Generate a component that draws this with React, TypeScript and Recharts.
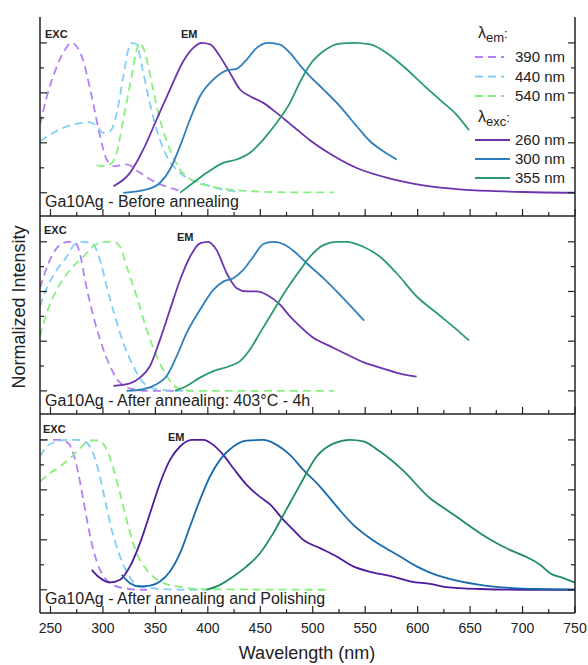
import React from 'react'
import { LineChart, Line, XAxis, YAxis } from 'recharts'

type Pt = [number, number]

// wavelengths (nm) vs normalized intensity
const xTicks = [250, 275, 300, 325, 350, 375, 400, 425, 450, 475, 500, 525, 550, 575, 600, 625, 650, 675, 700, 725, 750]
const yTicks = [0, 1 / 6, 2 / 6, 3 / 6, 4 / 6, 5 / 6, 1]

// Panel 1 - before annealing
const p1Exc390: Pt[] = [[240, 0.455], [246.4, 0.64], [254.3, 0.81], [263.8, 0.955], [270, 1.0], [279.8, 0.91], [289.3, 0.644], [297.2, 0.378], [303.6, 0.222], [311.5, 0.178], [322.6, 0.189], [335.3, 0.133], [348, 0.078], [363.9, 0.033], [376.6, 0.008]]
const p1Exc440: Pt[] = [[240, 0.344], [262.2, 0.433], [287.7, 0.47], [294, 0.444], [300.3, 0.4], [306.7, 0.41], [313.1, 0.53], [319.4, 0.777], [324.2, 0.955], [327.8, 1.0], [332.2, 0.99], [337, 0.85], [343.2, 0.644], [351.2, 0.422], [360.8, 0.244], [373.5, 0.133], [392.5, 0.067], [414.7, 0.022], [430, 0.004]]
const p1Exc540: Pt[] = [[294, 0.185], [297.2, 0.178], [306.7, 0.189], [313.1, 0.267], [319.4, 0.489], [327.4, 0.777], [332.2, 0.955], [335.3, 1.0], [340.1, 0.933], [346.5, 0.733], [354.4, 0.489], [363.9, 0.289], [373.5, 0.155], [386.1, 0.078], [402.1, 0.044], [430.7, 0.015], [478.3, 0.003], [520, 0.002]]
const p1Em260: Pt[] = [[310, 0.044], [325.8, 0.133], [338.5, 0.289], [351.2, 0.489], [363.9, 0.689], [376.6, 0.878], [386.1, 0.967], [394.1, 1.0], [402.1, 0.99], [411.6, 0.91], [421.1, 0.8], [430.7, 0.689], [440.2, 0.644], [452.9, 0.6], [465.6, 0.533], [478.3, 0.46], [487.9, 0.405], [497.4, 0.35], [516.5, 0.26], [541.9, 0.165], [573.6, 0.095], [605.4, 0.05], [637.2, 0.025], [669, 0.012], [700.7, 0.005], [750, 0]]
const p1Em300: Pt[] = [[319.4, 0], [341.7, 0.022], [354.4, 0.067], [363.9, 0.155], [373.5, 0.311], [383, 0.489], [392.5, 0.644], [405.2, 0.755], [418, 0.817], [427.5, 0.827], [437, 0.889], [446.6, 0.967], [457.6, 1.0], [468.8, 0.989], [478.3, 0.933], [487.9, 0.85], [497.4, 0.777], [510.1, 0.69], [526, 0.577], [541.9, 0.444], [554.6, 0.344], [567.3, 0.277], [580, 0.222]]
const p1Em355: Pt[] = [[373.5, 0], [386.1, 0.067], [398.9, 0.133], [414.7, 0.2], [427.5, 0.222], [440.2, 0.267], [452.9, 0.355], [465.6, 0.467], [478.3, 0.6], [487.9, 0.74], [497.4, 0.855], [510.1, 0.944], [526, 0.995], [538.7, 1.0], [554.6, 0.99], [570.5, 0.933], [586.3, 0.844], [605.4, 0.72], [621.3, 0.62], [637.2, 0.52], [649, 0.417]]

// Panel 2 - after annealing 403°C 4h
const p2Exc390: Pt[] = [[240, 0.69], [249.5, 0.88], [259.1, 0.98], [267, 1.0], [273.4, 0.995], [278.1, 0.92], [282.9, 0.744], [289.3, 0.544], [297.2, 0.345], [306.7, 0.167], [316.3, 0.055], [328.9, 0.011], [344.9, 0], [370, 0]]
const p2Exc440: Pt[] = [[240, 0.567], [246.4, 0.689], [255.9, 0.811], [265.5, 0.9], [273.4, 0.985], [279.8, 1.0], [287.7, 0.995], [292.4, 0.967], [297.2, 0.878], [303.6, 0.7], [311.5, 0.5], [319.4, 0.322], [328.9, 0.167], [338.5, 0.055], [351.2, 0.011], [377, 0], [383, 0]]
const p2Exc540: Pt[] = [[240, 0.367], [246.4, 0.522], [255.9, 0.678], [268.6, 0.811], [281.3, 0.9], [292.4, 0.978], [300.3, 1.0], [309.9, 1.0], [316.3, 0.967], [322.6, 0.833], [332.2, 0.633], [341.7, 0.411], [351.2, 0.233], [360.8, 0.1], [370.3, 0.022], [386, 0], [520, 0]]
const p2Em260: Pt[] = [[310, 0.033], [325.8, 0.05], [335.3, 0.089], [344.9, 0.167], [354.4, 0.344], [363.9, 0.544], [373.5, 0.744], [383, 0.9], [392.5, 0.99], [400.4, 1.0], [408.4, 0.944], [418, 0.789], [427.5, 0.689], [437, 0.667], [446.6, 0.667], [456.1, 0.645], [468.8, 0.578], [478.3, 0.5], [487.9, 0.433], [500.5, 0.356], [516.5, 0.3], [532.4, 0.245], [548.2, 0.193], [564.1, 0.156], [583.2, 0.116], [599, 0.096]]
const p2Em300: Pt[] = [[322.6, 0], [338.5, 0.011], [351.2, 0.044], [360.8, 0.1], [370.3, 0.233], [379.8, 0.389], [392.5, 0.544], [405.2, 0.678], [414.7, 0.733], [424.3, 0.756], [433.8, 0.811], [443.3, 0.9], [452.9, 0.985], [462.4, 1.0], [471.9, 0.985], [481.5, 0.94], [494.2, 0.856], [510.1, 0.756], [526, 0.644], [549, 0.471]]
const p2Em355: Pt[] = [[368.7, 0], [379.8, 0.033], [392.5, 0.089], [405.2, 0.133], [421.1, 0.167], [430.7, 0.2], [440.2, 0.278], [449.7, 0.389], [459.3, 0.5], [468.8, 0.611], [478.3, 0.715], [487.9, 0.81], [497.4, 0.9], [510.1, 0.978], [522.8, 1.0], [532.4, 1.0], [548.2, 0.967], [564.1, 0.9], [580, 0.789], [599.1, 0.633], [618.2, 0.522], [637.2, 0.411], [649, 0.338]]

// Panel 3 - after annealing and polishing
const p3Exc390: Pt[] = [[240, 1.0], [249.5, 1.0], [259.1, 1.0], [267, 0.978], [271.7, 0.911], [276.5, 0.778], [281.3, 0.6], [286, 0.422], [290.8, 0.267], [297.2, 0.133], [306.7, 0.044], [319.4, 0.011], [335.3, 0], [342, 0]]
const p3Exc440: Pt[] = [[240, 0.889], [246.4, 0.956], [255.9, 0.989], [265.5, 1.0], [275, 1.0], [282.9, 0.989], [289.3, 0.933], [295.6, 0.8], [302, 0.6], [308.4, 0.4], [316.3, 0.222], [324.2, 0.1], [332.2, 0.033], [344.9, 0.011], [376.6, 0], [399, 0]]
const p3Exc540: Pt[] = [[240, 0.722], [249.5, 0.778], [259.1, 0.822], [268.6, 0.878], [278.1, 0.944], [287.7, 0.996], [295.6, 0.996], [302, 0.956], [308.4, 0.844], [316.3, 0.644], [324.2, 0.422], [332.2, 0.244], [341.7, 0.133], [354.4, 0.055], [370.3, 0.022], [398.9, 0.004], [517, 0]]
const p3Em260: Pt[] = [[289.3, 0.133], [297.2, 0.078], [306.7, 0.049], [316.3, 0.067], [325.8, 0.156], [335.3, 0.311], [344.9, 0.511], [354.4, 0.711], [363.9, 0.867], [373.5, 0.956], [384.6, 1.0], [395.7, 1.0], [405.2, 0.967], [414.7, 0.9], [424.3, 0.811], [437, 0.7], [449.7, 0.62], [459.3, 0.57], [472, 0.467], [481.5, 0.4], [491, 0.333], [506.9, 0.278], [522.8, 0.222], [538.7, 0.156], [554.6, 0.12], [573.6, 0.093], [594, 0.055], [611.8, 0.04], [627.7, 0.018], [659.5, 0.005], [700, 0], [750, 0]]
const p3Em300: Pt[] = [[317.9, 0.1], [325.8, 0.044], [335.3, 0.022], [344.9, 0.027], [354.4, 0.055], [363.9, 0.122], [373.5, 0.244], [383, 0.422], [392.5, 0.6], [402, 0.756], [411.6, 0.867], [424.3, 0.956], [437, 0.995], [452.9, 1.0], [465.6, 0.967], [478.3, 0.9], [491, 0.8], [506.9, 0.689], [522.8, 0.556], [538.7, 0.433], [554.6, 0.344], [568.9, 0.28], [583.2, 0.222], [599, 0.156], [611.8, 0.115], [627.7, 0.078], [659.5, 0.033], [691.2, 0.011], [723, 0.004], [750, 0]]
const p3Em355: Pt[] = [[398.9, 0], [411.6, 0.033], [424.3, 0.089], [437, 0.156], [449.7, 0.244], [462.4, 0.378], [475.2, 0.54], [487.9, 0.7], [503.7, 0.889], [519.6, 0.975], [535.5, 1.0], [548.2, 0.99], [564.1, 0.922], [585.5, 0.8], [611.8, 0.611], [627.7, 0.533], [643.5, 0.456], [659.5, 0.378], [675.4, 0.311], [691.2, 0.256], [704, 0.218], [716.7, 0.167], [726.2, 0.111], [738.9, 0.078], [750, 0.048]]

const legendEm = ['390 nm', '440 nm', '540 nm']
const legendExc = ['260 nm', '300 nm', '355 nm']
const panelTitles = ['Ga10Ag - Before annealing', 'Ga10Ag - After annealing: 403°C - 4h', 'Ga10Ag - After annealing and Polishing']

const FONT = '"Liberation Sans", Arial, sans-serif'
const excColors = ['#b57ef6', '#82cdf9', '#86f07c']
const emColors = ['#6c33ae', '#2f7fbd', '#2b9a6d']
const emColors3 = ['#4c1b9e', '#176aab', '#1e8c5d']

const W = 588
const LEFT = 40
const RIGHT = 575
const DOMAIN_Y: [number, number] = [-0.155, 1.173]

const toData = (pts: Pt[]) => pts.map(([x, y]) => ({ x, y }))

const panels = [
  { top: 17, h: 199, exc: [p1Exc390, p1Exc440, p1Exc540], em: [p1Em260, p1Em300, p1Em355], emC: emColors },
  { top: 216, h: 198, exc: [p2Exc390, p2Exc440, p2Exc540], em: [p2Em260, p2Em300, p2Em355], emC: emColors },
  { top: 414, h: 199, exc: [p3Exc390, p3Exc440, p3Exc540], em: [p3Em260, p3Em300, p3Em355], emC: emColors3 },
]

const axisLine = { stroke: '#222', strokeWidth: 1.5 }

function Panel({ top, h, exc, em, emC, last }: any) {
  const bottomPad = last ? 30 : 1
  const chartH = h + 1 + bottomPad
  const axisBottom = 1 + h

  const leftTick = (p: any) => {
    const major = Math.round(p.payload.value * 6) % 2 === 0
    return <line x1={LEFT} x2={LEFT + (major ? 7 : 4)} y1={p.y} y2={p.y} stroke="#222" strokeWidth={1.2} />
  }
  const rightTick = (p: any) => {
    const major = Math.round(p.payload.value * 6) % 2 === 0
    return <line x1={RIGHT} x2={RIGHT - (major ? 7 : 4)} y1={p.y} y2={p.y} stroke="#222" strokeWidth={1.2} />
  }
  const topTick = (p: any) => {
    const major = p.payload.value % 50 === 0
    return <line x1={p.x} x2={p.x} y1={1} y2={1 + (major ? 7 : 4)} stroke="#222" strokeWidth={1.2} />
  }
  const bottomTick = (p: any) => {
    const major = p.payload.value % 50 === 0
    return (
      <g>
        <line x1={p.x} x2={p.x} y1={axisBottom} y2={axisBottom - (major ? 7 : 4)} stroke="#222" strokeWidth={1.2} />
        {last && major && (
          <text x={p.x} y={axisBottom + 20} textAnchor="middle" fontSize={14} fontFamily={FONT} fill="#222">
            {p.payload.value}
          </text>
        )}
      </g>
    )
  }

  return (
    <div style={{ position: 'absolute', left: 0, top: top - 1 }}>
      <LineChart width={W} height={chartH} margin={{ top: 1, right: 0, bottom: 0, left: 0 }}>
        <XAxis xAxisId="b" type="number" dataKey="x" domain={[240, 750]} ticks={xTicks} interval={0}
          orientation="bottom" height={bottomPad} tickSize={0} tickMargin={0} axisLine={axisLine} tick={bottomTick} allowDataOverflow />
        <XAxis xAxisId="t" type="number" dataKey="x" domain={[240, 750]} ticks={xTicks} interval={0}
          orientation="top" height={0} tickSize={0} tickMargin={0} axisLine={axisLine} tick={topTick} allowDataOverflow />
        <YAxis yAxisId="l" type="number" domain={DOMAIN_Y} ticks={yTicks} interval={0} width={LEFT}
          orientation="left" tickSize={0} tickMargin={0} axisLine={axisLine} tick={leftTick} allowDataOverflow />
        <YAxis yAxisId="r" type="number" domain={DOMAIN_Y} ticks={yTicks} interval={0} width={W - RIGHT}
          orientation="right" tickSize={0} tickMargin={0} axisLine={axisLine} tick={rightTick} allowDataOverflow />
        {exc.map((pts: Pt[], i: number) => (
          <Line key={'exc' + i} xAxisId="b" yAxisId="l" data={toData(pts)} dataKey="y" type="monotone"
            stroke={excColors[i]} strokeWidth={1.8} strokeDasharray="8 5" dot={false} isAnimationActive={false} />
        ))}
        {em.map((pts: Pt[], i: number) => (
          <Line key={'em' + i} xAxisId="b" yAxisId="l" data={toData(pts)} dataKey="y" type="monotone"
            stroke={emC[i]} strokeWidth={1.8} dot={false} isAnimationActive={false} />
        ))}
      </LineChart>
    </div>
  )
}

export default function App() {
  const txt = { fontFamily: FONT, fill: '#222' }
  return (
    <div style={{ position: 'absolute', left: 0, top: 0, width: W, height: 665, background: '#fff' }}>
      {panels.map((p, i) => (
        <Panel key={i} {...p} last={i === 2} />
      ))}
      <svg width={W} height={665} style={{ position: 'absolute', left: 0, top: 0, pointerEvents: 'none' }}>
        {/* panel annotations */}
        <text x={45} y={38} fontSize={11} fontWeight="bold" {...txt}>EXC</text>
        <text x={181} y={38} fontSize={11} fontWeight="bold" {...txt}>EM</text>
        <text x={44} y={234} fontSize={11} fontWeight="bold" {...txt}>EXC</text>
        <text x={177} y={241} fontSize={11} fontWeight="bold" {...txt}>EM</text>
        <text x={43} y={433} fontSize={11} fontWeight="bold" {...txt}>EXC</text>
        <text x={168} y={441} fontSize={11} fontWeight="bold" {...txt}>EM</text>

        <text x={45} y={207} fontSize={16} {...txt}>{panelTitles[0]}</text>
        <text x={45} y={406} fontSize={16} {...txt}>{panelTitles[1]}</text>
        <text x={45} y={604} fontSize={16} {...txt}>{panelTitles[2]}</text>

        {/* legend */}
        <text x={478} y={38} fontSize={16} {...txt}>λ<tspan fontSize={13} dy={4}>em</tspan><tspan fontSize={13} dy={-4}>:</tspan></text>
        {legendEm.map((l, i) => (
          <g key={l}>
            <line x1={475} x2={504} y1={57 + i * 19.5} y2={57 + i * 19.5} stroke={excColors[i]} strokeWidth={1.8} strokeDasharray="8 5" />
            <text x={515} y={62 + i * 19.5} fontSize={15} {...txt}>{l}</text>
          </g>
        ))}
        <text x={478} y={122} fontSize={16} {...txt}>λ<tspan fontSize={13} dy={4}>exc</tspan><tspan fontSize={13} dy={-4}>:</tspan></text>
        {legendExc.map((l, i) => (
          <g key={l}>
            <line x1={475} x2={510} y1={140 + i * 19} y2={140 + i * 19} stroke={emColors[i]} strokeWidth={2} />
            <text x={515} y={145 + i * 19} fontSize={15} {...txt}>{l}</text>
          </g>
        ))}

        {/* axis titles */}
        <text x={307} y={659} fontSize={18} textAnchor="middle" {...txt}>Wavelength (nm)</text>
        <text x={25} y={307} fontSize={18} textAnchor="middle" transform="rotate(-90 25 307)" {...txt}>Normalized Intensity</text>
      </svg>
    </div>
  )
}
